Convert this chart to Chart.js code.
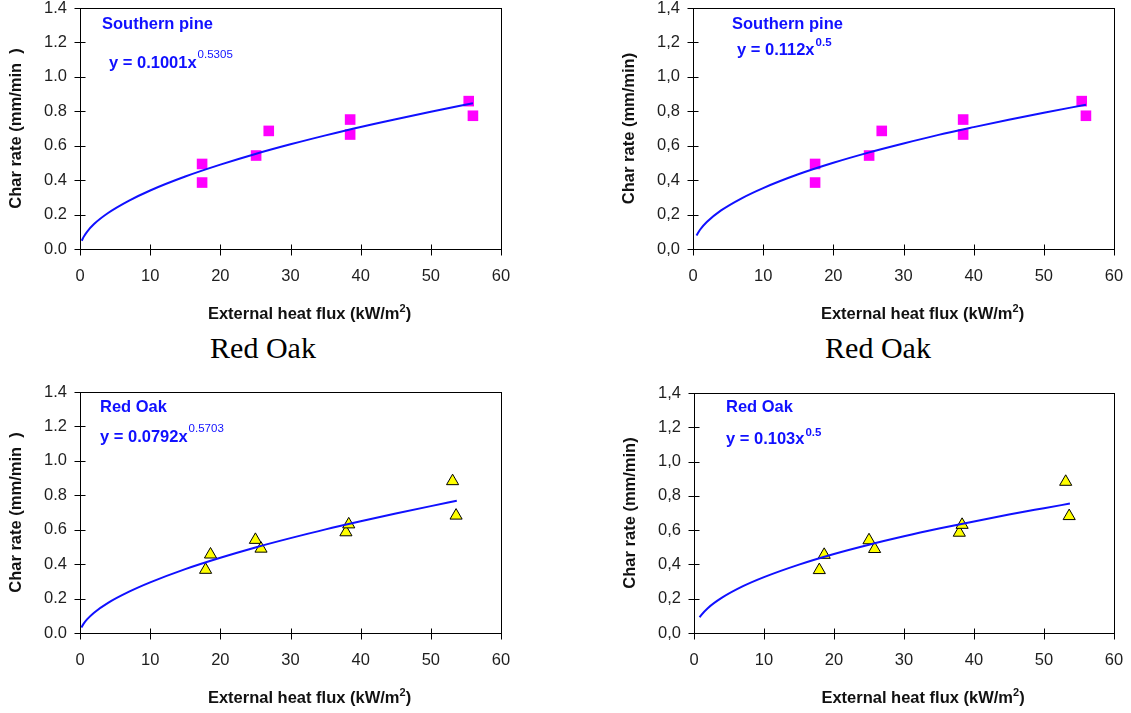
<!DOCTYPE html>
<html>
<head>
<meta charset="utf-8">
<script src="https://cdn.jsdelivr.net/npm/chart.js@4.4.0/dist/chart.umd.min.js"></script>
<style>
  body { margin:0; background:#fff; width:1131px; height:713px; position:relative; overflow:hidden; }
  canvas { position:absolute; }
  .species { position:absolute; font-family:"Liberation Serif","Times New Roman",serif; font-size:30px; line-height:1; color:#000; transform:translateX(-50%); white-space:nowrap; }
</style>
</head>
<body>
<canvas id="pineA" width="540" height="330" style="left:0;top:0"></canvas>
<canvas id="pineB" width="518" height="330" style="left:613px;top:0"></canvas>
<canvas id="oakA" width="540" height="329" style="left:0;top:384px"></canvas>
<canvas id="oakB" width="517" height="328" style="left:614px;top:385px"></canvas>
<div class="species" style="left:263px;top:333px">Red Oak</div>
<div class="species" style="left:878px;top:333px">Red Oak</div>

<script>
// ---- measured data (kW/m2 vs mm/min) ----
const pineFlux = [17.4, 17.4, 25.1, 26.9, 38.5, 38.5, 55.4, 56.0];
const pineRate = [0.494, 0.386, 0.543, 0.686, 0.752, 0.665, 0.859, 0.774];
const oakFlux  = [17.9, 18.6, 25.0, 25.8, 37.9, 38.3, 53.1, 53.6];
const oakRate  = [0.367, 0.456, 0.541, 0.490, 0.585, 0.631, 0.882, 0.682];

// ---- fitted curves ----
const pineFitAX = [0.25, 0.5, 1, 2, 4, 7, 10, 15, 20, 25, 30, 35, 40, 45, 50, 56];
const pineFitAY = [0.048, 0.069, 0.100, 0.145, 0.209, 0.281, 0.340, 0.421, 0.490, 0.552, 0.608, 0.660, 0.709, 0.754, 0.797, 0.847];
const pineFitBX = [0.5, 1, 2, 4, 7, 10, 15, 20, 25, 30, 35, 40, 45, 50, 56];
const pineFitBY = [0.079, 0.112, 0.158, 0.224, 0.296, 0.354, 0.434, 0.501, 0.560, 0.613, 0.663, 0.708, 0.751, 0.792, 0.838];
const oakFitAX  = [0.2, 0.5, 1, 2, 4, 7, 10, 15, 20, 25, 30, 35, 40, 45, 50, 53.7];
const oakFitAY  = [0.032, 0.053, 0.079, 0.118, 0.175, 0.240, 0.294, 0.371, 0.437, 0.497, 0.551, 0.602, 0.649, 0.694, 0.737, 0.768];
const oakFitBX  = [0.8, 1, 2, 4, 7, 10, 15, 20, 25, 30, 35, 40, 45, 50, 53.7];
const oakFitBY  = [0.092, 0.103, 0.146, 0.206, 0.273, 0.326, 0.399, 0.461, 0.515, 0.564, 0.609, 0.651, 0.691, 0.728, 0.755];

const xTicks = [0, 10, 20, 30, 40, 50, 60];
const yTicks = [0, 0.2, 0.4, 0.6, 0.8, 1.0, 1.2, 1.4];

const SANS = '"Liberation Sans", Arial, sans-serif';
const BLUE = '#1010ff';

const pts = (xs, ys) => xs.map((x, i) => ({ x, y: ys[i] }));

// box round the plot, cross ticks, equation labels and x title
const framePlugin = {
  id: 'frame',
  afterDraw(chart, args, o) {
    const { ctx, chartArea: a, scales } = chart;
    const L = Math.round(a.left) + 0.5, R = Math.round(a.right) + 0.5;
    const T = Math.round(a.top) + 0.5, B = Math.round(a.bottom) + 0.5;
    ctx.save();
    ctx.strokeStyle = '#000';
    ctx.lineWidth = 1;
    ctx.strokeRect(L, T, R - L, B - T);
    ctx.beginPath();
    xTicks.forEach(v => {
      const px = Math.round(scales.x.getPixelForValue(v)) + 0.5;
      ctx.moveTo(px, B - 5); ctx.lineTo(px, B + 6);
    });
    yTicks.forEach(v => {
      const py = Math.round(scales.y.getPixelForValue(v)) + 0.5;
      ctx.moveTo(L - 6, py); ctx.lineTo(L + 5, py);
    });
    ctx.stroke();

    // species name + equation
    ctx.fillStyle = BLUE;
    ctx.textBaseline = 'alphabetic';
    ctx.textAlign = 'left';
    ctx.font = 'bold 16.5px ' + SANS;
    ctx.fillText(o.name, a.left + o.nameAt[0], a.top + o.nameAt[1]);
    const ex = a.left + o.eqAt[0], ey = a.top + o.eqAt[1];
    ctx.fillText(o.eq, ex, ey);
    const w = ctx.measureText(o.eq).width;
    ctx.font = (o.supBold ? 'bold ' : '') + '11.5px ' + SANS;
    ctx.fillText(o.sup, ex + w + 1, ey - o.supRaise);

    // x axis title with superscript
    ctx.fillStyle = '#111';
    const main = 'External heat flux (kW/m';
    ctx.font = 'bold 16.5px ' + SANS;
    const w1 = ctx.measureText(main).width;
    const w3 = ctx.measureText(')').width;
    ctx.font = 'bold 11px ' + SANS;
    const w2 = ctx.measureText('2').width;
    const total = w1 + w2 + w3;
    const cx = (a.left + a.right) / 2 + 19;
    const by = a.bottom + 70;
    let x0 = cx - total / 2;
    ctx.font = 'bold 16.5px ' + SANS;
    ctx.fillText(main, x0, by);
    ctx.font = 'bold 11px ' + SANS;
    ctx.fillText('2', x0 + w1, by - 7);
    ctx.font = 'bold 16.5px ' + SANS;
    ctx.fillText(')', x0 + w1 + w2, by);
    ctx.restore();
  }
};

function makePanel(id, cfg) {
  const pointSet = cfg.square ? {
    pointStyle: 'rect', pointRadius: 7.5,
    backgroundColor: '#ff00ff', borderColor: '#ff00ff', borderWidth: 0
  } : {
    pointStyle: 'triangle', pointRadius: 7,
    backgroundColor: '#ffff00', borderColor: '#000', borderWidth: 1
  };
  const fmt = v => cfg.comma ? v.toFixed(1).replace('.', ',') : v.toFixed(1);

  return new Chart(document.getElementById(id), {
    type: 'scatter',
    data: {
      datasets: [
        {
          data: pts(cfg.fitX, cfg.fitY),
          showLine: true, pointRadius: 0,
          borderColor: BLUE, borderWidth: 2,
          tension: 0.4, cubicInterpolationMode: 'monotone',
          order: 0
        },
        Object.assign({ data: pts(cfg.ptX, cfg.ptY), order: 1 }, pointSet)
      ]
    },
    options: {
      responsive: false,
      animation: false,
      devicePixelRatio: 1,
      layout: { padding: { top: 8, right: cfg.padRight, left: 0, bottom: 0 } },
      plugins: {
        legend: { display: false },
        tooltip: { enabled: false },
        frame: cfg.notes
      },
      scales: {
        x: {
          type: 'linear', min: 0, max: 60,
          grid: { display: false, drawTicks: false },
          border: { display: false },
          afterBuildTicks: s => { s.ticks = xTicks.map(v => ({ value: v })); },
          ticks: { padding: 18, color: '#1e1e1e', font: { family: SANS, size: 16.5 }, maxRotation: 0 },
          afterFit: s => { s.height = cfg.xHeight; s.paddingLeft = 0; s.paddingRight = 0; }
        },
        y: {
          min: 0, max: 1.4,
          grid: { display: false, drawTicks: false },
          border: { display: false },
          afterBuildTicks: s => { s.ticks = yTicks.map(v => ({ value: v })); },
          ticks: { padding: 13, color: '#1e1e1e', font: { family: SANS, size: 16.5 }, callback: v => fmt(v) },
          title: {
            display: true, text: cfg.yTitle, color: '#111',
            font: { family: SANS, size: 16.5, weight: 'bold' },
            padding: { top: 7, bottom: 0 }
          },
          afterFit: s => { s.width = 80; s.paddingTop = 0; s.paddingBottom = 0; }
        }
      }
    },
    plugins: [framePlugin]
  });
}

makePanel('pineA', {
  square: true, comma: false, padRight: 39, xHeight: 81,
  ptX: pineFlux, ptY: pineRate, fitX: pineFitAX, fitY: pineFitAY,
  yTitle: 'Char rate (mm/min  )',
  notes: { name: 'Southern pine', nameAt: [22, 21], eq: 'y = 0.1001x', eqAt: [29, 60], sup: '0.5305', supBold: false, supRaise: 10 }
});
makePanel('pineB', {
  square: true, comma: true, padRight: 17, xHeight: 81,
  ptX: pineFlux, ptY: pineRate, fitX: pineFitBX, fitY: pineFitBY,
  yTitle: 'Char rate (mm/min)',
  notes: { name: 'Southern pine', nameAt: [39, 21], eq: 'y = 0.112x', eqAt: [44, 47], sup: '0.5', supBold: true, supRaise: 9 }
});
makePanel('oakA', {
  square: false, comma: false, padRight: 39, xHeight: 80,
  ptX: oakFlux, ptY: oakRate, fitX: oakFitAX, fitY: oakFitAY,
  yTitle: 'Char rate (mm/min  )',
  notes: { name: 'Red Oak', nameAt: [20, 20], eq: 'y = 0.0792x', eqAt: [20, 50], sup: '0.5703', supBold: false, supRaise: 10 }
});
makePanel('oakB', {
  square: false, comma: true, padRight: 17, xHeight: 80,
  ptX: oakFlux, ptY: oakRate, fitX: oakFitBX, fitY: oakFitBY,
  yTitle: 'Char rate (mm/min)',
  notes: { name: 'Red Oak', nameAt: [32, 19], eq: 'y = 0.103x', eqAt: [32, 51], sup: '0.5', supBold: true, supRaise: 8 }
});
</script>
</body>
</html>
